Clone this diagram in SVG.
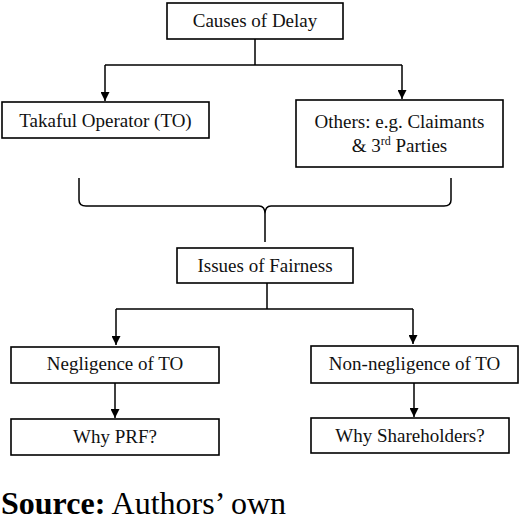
<svg xmlns="http://www.w3.org/2000/svg" width="520" height="522" viewBox="0 0 520 522">
<defs>
<marker id="arr" viewBox="0 0 10 10" refX="10" refY="5" markerWidth="9" markerHeight="9" markerUnits="userSpaceOnUse" orient="auto">
<path d="M0,0 L10,5 L0,10 Z" fill="#000"/>
</marker>
<style>
.box{fill:#fff;stroke:#000;stroke-width:1.6}
.t{font-family:'Liberation Serif','Times New Roman',serif;font-size:19px;fill:#111;text-anchor:middle}
.c{fill:none;stroke:#000;stroke-width:1.5}
.src{font-family:'Liberation Serif','Times New Roman',serif;font-size:32px;fill:#000}
</style>
</defs>
<rect width="520" height="522" fill="#fff"/>
<g id="connectors">
<path class="c" d="M255,39 V65 M105,65 H402"/>
<path class="c" d="M105,65 V101" marker-end="url(#arr)"/>
<path class="c" d="M402,65 V99" marker-end="url(#arr)"/>
<path class="c" d="M79,178 V200 Q79,206 86,206 H259 Q265,206 265,214 V242 M265,214 Q265,206 271,206 H444 Q451,206 451,200 V178"/>
<path class="c" d="M267,283 V309 M116,309 H413"/>
<path class="c" d="M116,309 V345" marker-end="url(#arr)"/>
<path class="c" d="M413,309 V344" marker-end="url(#arr)"/>
<path class="c" d="M115,383 V418" marker-end="url(#arr)"/>
<path class="c" d="M414,383 V417" marker-end="url(#arr)"/>
</g>
<g id="causes">
<rect class="box" x="167" y="3" width="176" height="36"/>
<text class="t" x="255" y="27">Causes of Delay</text>
</g>
<g id="takaful">
<rect class="box" x="2" y="102" width="207" height="36"/>
<text class="t" x="105.5" y="127">Takaful Operator (TO)</text>
</g>
<g id="others">
<rect class="box" x="296" y="100" width="207" height="67"/>
<text class="t" x="399.5" y="128">Others: e.g. Claimants</text>
<text class="t" x="399.5" y="152">&amp; 3<tspan font-size="12" dy="-7">rd</tspan><tspan dy="7"> Parties</tspan></text>
</g>
<g id="fairness">
<rect class="box" x="177" y="248" width="176" height="35"/>
<text class="t" x="265" y="272">Issues of Fairness</text>
</g>
<g id="negligence">
<rect class="box" x="11" y="347" width="208" height="36"/>
<text class="t" x="115" y="370">Negligence of TO</text>
</g>
<g id="nonnegligence">
<rect class="box" x="311" y="346" width="207" height="37"/>
<text class="t" x="414.5" y="370">Non-negligence of TO</text>
</g>
<g id="prf">
<rect class="box" x="11" y="419" width="208" height="36"/>
<text class="t" x="115" y="443">Why PRF?</text>
</g>
<g id="shareholders">
<rect class="box" x="311" y="418" width="198" height="35"/>
<text class="t" x="410" y="442">Why Shareholders?</text>
</g>
<g id="source">
<text class="src" x="1" y="514"><tspan font-weight="bold">Source:</tspan> Authors’ own</text>
</g>
</svg>
